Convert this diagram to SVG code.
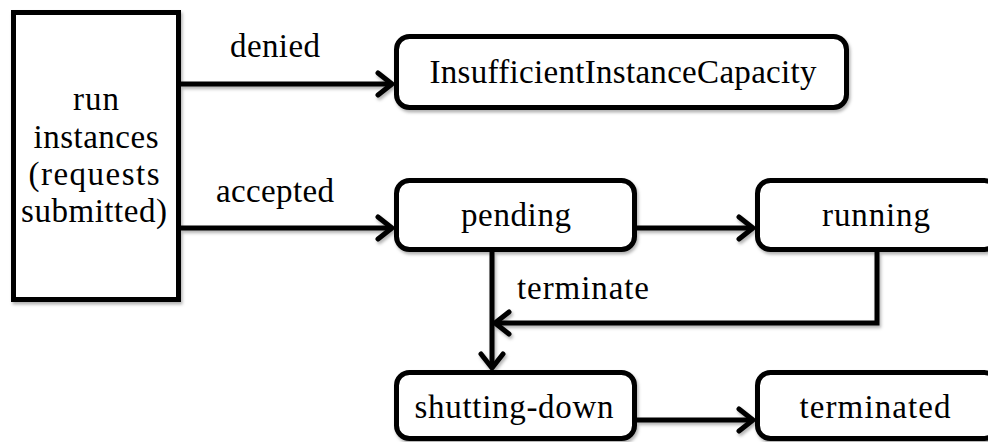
<svg xmlns="http://www.w3.org/2000/svg" width="988" height="442" viewBox="0 0 988 442">
<defs>
<style>
.box{fill:#fff;stroke:#000;stroke-width:5}
.t{font-family:"Liberation Serif","Times New Roman",serif;font-size:33px;fill:#000;text-anchor:middle}
.c{fill:none;stroke:#000;stroke-width:5}
</style>
<filter id="sh" x="-10%" y="-10%" width="130%" height="140%">
<feDropShadow dx="1.5" dy="2.5" stdDeviation="1.5" flood-color="#000" flood-opacity="0.3"/>
</filter>
<marker id="ah" markerUnits="userSpaceOnUse" viewBox="-18 -14 22 28" markerWidth="22" markerHeight="28" refX="0" refY="0" orient="auto">
<path d="M-14,-11 L0,0 L-14,11" fill="none" stroke="#000" stroke-width="5" stroke-linejoin="round" stroke-linecap="round"/>
</marker>
</defs>
<g id="run-instances">
<rect class="box" x="13.5" y="12.5" width="165" height="287" filter="url(#sh)"/>
<text class="t" x="96" y="110" textLength="46">run</text>
<text class="t" x="96" y="148" textLength="125">instances</text>
<text class="t" x="94" y="185" textLength="131">(requests</text>
<text class="t" x="94" y="222" textLength="146">submitted)</text>
</g>
<g id="insufficient">
<rect class="box" x="396.5" y="36.5" width="450" height="71" rx="13" filter="url(#sh)"/>
<text class="t" x="623" y="83" textLength="387">InsufficientInstanceCapacity</text>
</g>
<g id="pending">
<rect class="box" x="396.5" y="180.5" width="238" height="69" rx="13" filter="url(#sh)"/>
<text class="t" x="516" y="226" textLength="110">pending</text>
</g>
<g id="running">
<rect class="box" x="757.5" y="180.5" width="240" height="69" rx="13" filter="url(#sh)"/>
<text class="t" x="876" y="226" textLength="108">running</text>
</g>
<g id="shutting-down">
<rect class="box" x="396.5" y="372.5" width="238" height="66" rx="13" filter="url(#sh)"/>
<text class="t" x="514" y="418" textLength="199">shutting-down</text>
</g>
<g id="terminated">
<rect class="box" x="757.5" y="372.5" width="240" height="66" rx="13" filter="url(#sh)"/>
<text class="t" x="875" y="418" textLength="151">terminated</text>
</g>
<g id="connectors">
<g filter="url(#sh)">
<path class="c" d="M181,84 H392" marker-end="url(#ah)"/>
<path class="c" d="M181,228 H392" marker-end="url(#ah)"/>
<path class="c" d="M637,228 H753" marker-end="url(#ah)"/>
<path class="c" d="M492,252 V368" marker-end="url(#ah)"/>
<path class="c" d="M877,252 V323 H495" marker-end="url(#ah)"/>
<path class="c" d="M637,420 H753" marker-end="url(#ah)"/>
</g>
<text class="t" x="275" y="57" textLength="90">denied</text>
<text class="t" x="275" y="202" textLength="118">accepted</text>
<text class="t" x="583" y="299" textLength="132">terminate</text>
</g>
</svg>
